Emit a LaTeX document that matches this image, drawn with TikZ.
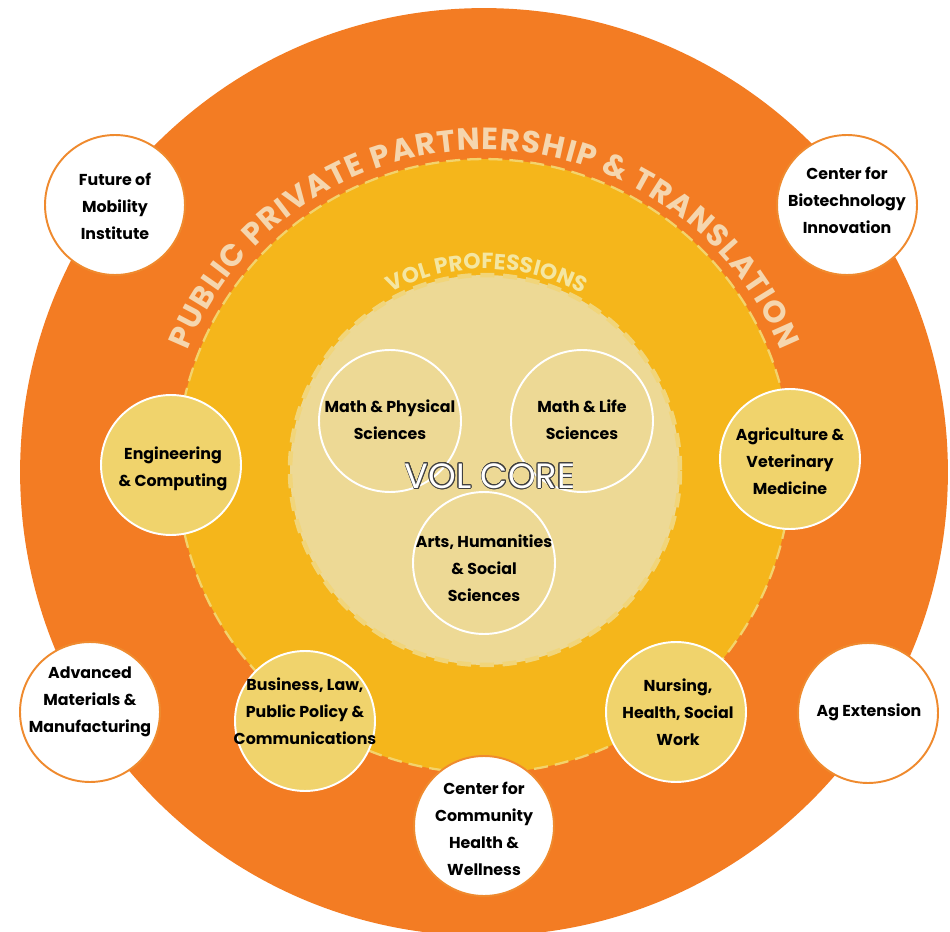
\documentclass[tikz,border=0pt]{standalone}
\usepackage{fontspec}
\setmainfont{Poppins}
\usetikzlibrary{decorations.text}
\definecolor{orng}{HTML}{F37C23}
\definecolor{orngline}{HTML}{EF8A2E}
\definecolor{yel}{HTML}{F5B61B}
\definecolor{yeldash}{HTML}{F3D36C}
\definecolor{pale}{HTML}{EDD995}
\definecolor{paledash}{HTML}{F1D57A}
\definecolor{satyel}{HTML}{F0D36C}
\definecolor{pptc}{HTML}{F5D6AE}
\definecolor{vpc}{HTML}{F4E6A2}
\definecolor{outl}{HTML}{404040}
\begin{document}
\begin{tikzpicture}[x=0.02cm,y=0.02cm,
  sat/.style={circle,minimum size=2.8cm,inner sep=0pt,line width=1.1pt},
  whitesat/.style={sat,fill=white,draw=orngline},
  yelsat/.style={sat,fill=satyel,draw=white},
  corec/.style={circle,minimum size=2.84cm,inner sep=0pt,draw=white,line width=1.1pt},
  lbl/.style={align=center,font=\fontsize{9}{15.4}\selectfont\bfseries,text=black,inner sep=0pt},
  corefont/.style={font=\fontsize{20}{20}\selectfont,inner sep=0pt}]
\useasboundingbox (0,0) rectangle (950,-932);
% discs
\node[circle,fill=orng,minimum size=18.56cm,inner sep=0pt] (outer) at (484,-472) {};
\node[circle,fill=yel,draw=yeldash,line width=1.3pt,dash pattern=on 8pt off 4pt,minimum size=12.28cm,inner sep=0pt] (prof) at (484,-466) {};
\node[circle,fill=pale,draw=paledash,line width=2.6pt,dash pattern=on 8pt off 5pt,minimum size=7.8cm,inner sep=0pt] (core) at (485,-470) {};
% curved titles
\path[decorate,decoration={text along path,text align=fit to path,
  text={|\fontsize{17.5}{17.5}\selectfont\bfseries\color{pptc}|PUBLIC PRIVATE PARTNERSHIP {\&} TRANSLATION}}]
  (484,-470) ++(158:6.4cm) arc[start angle=158,end angle=22,radius=6.4cm];
\path[decorate,decoration={text along path,text align=fit to path,
  text={|\fontsize{12.5}{12.5}\selectfont\bfseries\color{vpc}|VOL PROFESSIONS}}]
  (485,-470) ++(118:4.02cm) arc[start angle=118,end angle=61,radius=4.02cm];
% core circles
\node[corec] (mps) at (390,-421) {};
\node[corec] (mls) at (582,-421) {};
\node[corec] (ahs) at (484,-563) {};
\node[lbl] (mps-t) at (390,-420) {Math \& Physical\\Sciences};
\node[lbl] (mls-t) at (582,-420) {Math \& Life\\Sciences};
\node[lbl] (ahs-t) at (484,-568) {Arts, Humanities\\\& Social\\Sciences};
% VOL CORE outlined text
\foreach \a in {0,22.5,...,337.5}
  \node[corefont,text=outl,shift={(\a:0.5pt)}] at (490,-476) {VOL CORE};
\node[corefont,text=white] (vc) at (490,-476) {VOL CORE};
% satellites
\node[whitesat] (fmi) at (115,-205) {};
\node[whitesat] (cbi) at (847,-205) {};
\node[yelsat] (eng) at (171,-465) {};
\node[yelsat] (agv) at (790,-459) {};
\node[whitesat] (amm) at (90,-712) {};
\node[yelsat] (blp) at (305,-721) {};
\node[whitesat] (cch) at (484,-826) {};
\node[yelsat] (nhs) at (676,-712) {};
\node[whitesat] (agx) at (868,-713) {};
\node[lbl] (fmi-t) at (115,-206) {Future of\\Mobility\\Institute};
\node[lbl] (cbi-t) at (847,-200) {Center for\\Biotechnology\\Innovation};
\node[lbl] (eng-t) at (173,-469) {Engineering\\\& Computing};
\node[lbl] (agv-t) at (790,-461) {Agriculture \&\\Veterinary\\Medicine};
\node[lbl] (amm-t) at (90,-702) {Advanced\\Materials \&\\Manufacturing};
\node[lbl] (blp-t) at (305,-711) {Business, Law,\\Public Policy \&\\Communications};
\node[lbl] (cch-t) at (484,-829) {Center for\\Community\\Health \&\\Wellness};
\node[lbl] (nhs-t) at (678,-712) {Nursing,\\Health, Social\\Work};
\node[lbl] (agx-t) at (869,-712) {Ag Extension};
\end{tikzpicture}
\end{document}
